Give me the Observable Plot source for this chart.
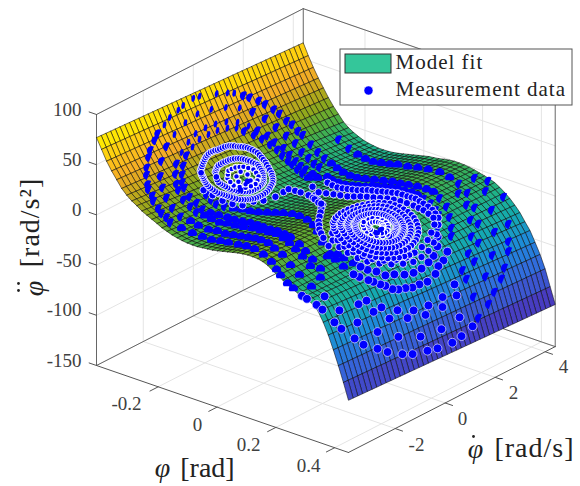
<!DOCTYPE html>
<html><head><meta charset="utf-8">
<script src="https://cdn.jsdelivr.net/npm/d3@7"></script>
<script src="https://cdn.jsdelivr.net/npm/@observablehq/plot@0.6"></script>
<style>html,body{margin:0;background:#fff}.wide text{letter-spacing:1px}</style></head><body><div id="c"></div>
<script>
const accelAtLowRate=[77,67,57,49,42,35,30,26,23,19.5,17,14.6,12.2,9.6,7.8,6,4.8,3.8,3.2,3,3,3.6,4.2,4.8,5.8,7,8.2,9.4,10.6,11.4,12,12,11.8,10.6,8.5,5,2,-1,-4,-6.6,-9,-11,-12,-15,-20,-29,-40,-53,-67,-82,-98];
const accelAtHighRate=[66,55,45,36,28,20,13,7,1,-3,-6,-8.4,-10.4,-11.6,-12.4,-13,-13,-12.8,-12.2,-11.2,-10,-8.8,-7.6,-6.4,-5.2,-4,-3.4,-2.6,-1.4,-.6,0,0,-.2,-.8,-1.8,-3,-4.2,-5.6,-7.4,-10.4,-14,-18,-23,-28.6,-36,-43,-53,-63.4,-76,-92,-108];
const phiRange=[-0.41,0.447], rateRange=[-3.87,4.4], accelRange=[-150,100];
const phiTicks=[-0.2,0,0.2,0.4], rateTicks=[-2,0,2,4], accelTicks=[-150,-100,-50,0,50,100];
const colorDomain=[-100,-72,-50,-30,-15,-3,7,18,30,42,55,66,77];
const colorRange=["#483bc0","#3468dc","#1f88dc","#14a8b4","#1ab294","#2cb168","#58ad38","#90a81c","#c8a81c","#f4ac26","#fdc21a","#ffdc08","#fff200"];
const nRate=44;
// measurement data: [phi, phi-dot] read along each visible trajectory
const bandA=[[-.397,.78],[-.392,1.16],[-.388,1.38],[-.379,1.68],[-.373,1.86],[-.363,2.11],[-.354,2.26],[-.341,2.45],[-.331,2.56],[-.315,2.66],[-.305,2.76],[-.289,2.8],[-.278,2.87],[-.25,2.86],[-.221,2.8],[-.194,2.75],[-.167,2.67],[-.139,2.58],[-.108,2.46],[-.075,2.35],[-.046,2.29],[-.02,2.3],[.009,2.32],[.038,2.34],[.067,2.36],[.097,2.33],[.118,2.4],[.142,2.48],[.165,2.57],[.183,2.64],[.211,2.59],[.244,2.48],[.272,2.27],[.298,2.04],[.315,1.84],[.338,1.37],[.349,1.08],[.354,.82],[.363,.6],[.368,.22],[.367,-.09],[.367,-.37],[.364,-.61],[.362,-.87],[.358,-1.06],[.349,-1.24],[.344,-1.38],[.334,-1.54],[.327,-1.66],[.311,-1.83],[.296,-1.89],[.265,-1.93],[.238,-1.93],[.218,-1.9]];
const bandB=[[-.404,-.07],[-.403,.17],[-.401,-.51],[-.398,-.74],[-.394,-1.13],[-.388,-1.41],[-.38,-1.73],[-.373,-1.93],[-.362,-2.24],[-.353,-2.41],[-.338,-2.66],[-.327,-2.8],[-.309,-2.97],[-.298,-3.07],[-.28,-3.12],[-.266,-3.24],[-.242,-3.33],[-.225,-3.4],[-.208,-3.4],[-.19,-3.46],[-.16,-3.41],[-.128,-3.35],[-.097,-3.31],[-.067,-3.3],[-.039,-3.27],[-.014,-3.25],[.025,-3.31],[.057,-3.36],[.093,-3.46],[.134,-3.59],[.169,-3.68],[.192,-3.75],[.211,-3.81],[.238,-3.85],[.258,-3.85],[.287,-3.85],[.304,-3.85],[.33,-3.77]];
const bandC=[[-.381,.38],[-.375,.89],[-.366,1.34],[-.351,1.73],[-.333,2.01],[-.312,2.2],[-.289,2.34],[-.267,2.44],[-.239,2.37],[-.215,2.36],[-.19,2.29],[-.171,2.28],[-.121,1.97],[-.095,1.86],[-.067,1.78],[-.037,1.7],[-.015,1.72],[.004,1.74],[.026,1.76],[.038,1.9],[.057,1.88],[.076,1.94],[.097,1.97],[.113,2.02],[.135,2.04],[.153,2.11],[.171,2.14],[.191,2.18],[.214,2.19],[.239,2.1],[.255,2.03],[.282,1.71],[.301,1.41],[.321,1.17],[.335,.85],[.342,.57],[.347,.23],[.348,-.1],[.345,-.43],[.337,-.74],[.332,-1.04],[.316,-1.21],[.302,-1.4],[.285,-1.48],[.269,-1.58],[.245,-1.69],[.227,-1.72]];
const bandD=[[-.383,-.15],[-.379,-.68],[-.37,-1.22],[-.357,-1.65],[-.338,-2.08],[-.314,-2.4],[-.289,-2.61],[-.261,-2.78],[-.228,-2.93],[-.195,-3],[-.17,-2.93],[-.145,-2.91],[-.115,-2.86],[-.094,-2.75],[-.065,-2.77],[-.04,-2.74],[-.015,-2.72],[.01,-2.73],[.035,-2.74],[.062,-2.82],[.095,-2.93],[.13,-3.1],[.163,-3.17],[.198,-3.26],[.232,-3.3],[.276,-3.34],[.319,-3.32]];
const bandE=[[-.355,.68],[-.347,1.03],[-.334,1.32],[-.32,1.55],[-.304,1.76],[-.286,1.83],[-.267,1.97],[-.245,1.95],[-.221,1.91],[-.201,1.87],[-.183,1.86],[-.158,1.81],[-.135,1.74],[-.359,.29],[-.36,-.1],[-.358,-.52],[-.35,-.9],[-.339,-1.3],[-.324,-1.64],[-.306,-1.89],[-.284,-2.11],[-.268,-2.22],[-.239,-2.36],[-.212,-2.4],[-.189,-2.43],[-.169,-2.38],[-.149,-2.34],[-.124,-2.31],[-.106,-2.2],[-.083,-2.16],[-.059,-2.12],[-.031,-2.09],[0,-2.13],[.033,-2.2],[.065,-2.26],[.104,-2.44],[.136,-2.57],[.165,-2.67],[.191,-2.7],[.224,-2.77],[.264,-2.84]];
const bandF=[[-.348,.24],[-.345,.6],[-.339,.9],[-.328,1.12],[-.315,1.37],[-.302,1.54],[-.285,1.66],[-.269,1.75],[-.25,1.73],[-.23,1.73],[-.215,1.72],[-.194,1.67],[-.174,1.64],[-.15,1.55],[-.348,-.12],[-.347,-.49],[-.34,-.85],[-.33,-1.17],[-.315,-1.47],[-.299,-1.7],[-.282,-1.9],[-.268,-1.98],[-.24,-2.11],[-.215,-2.12],[-.19,-2.18],[-.17,-2.13],[-.152,-2.02],[-.13,-1.92],[-.11,-1.88],[-.088,-1.82],[-.064,-1.78],[-.035,-1.84],[-.01,-1.9],[.022,-1.99],[.05,-2.04],[.086,-2.18],[.113,-2.26],[.155,-2.4],[.181,-2.46],[.21,-2.52],[.242,-2.58]];
const bandG=[[-.227,-1.58],[-.207,-1.62],[-.189,-1.63],[-.171,-1.52],[-.153,-1.41],[-.135,-1.26],[-.116,-1.17],[-.096,-1.08],[-.077,-.95],[-.057,-.86],[-.037,-.78],[-.009,-.75],[.022,-.83],[.065,-1.02],[.106,-1.26],[.14,-1.5],[.18,-1.77],[.22,-2.04]];
const startsTop=[[-.234,3.78],[-.194,3.72],[-.16,3.64],[-.128,3.57],[-.097,3.52],[-.07,3.53],[-.04,3.51],[-.017,3.56],[.022,3.5],[.051,3.56],[.088,3.54],[.124,3.58],[.161,3.54],[.195,3.54]];
const edgeRing1=[[.394,-3],[.404,-2.76],[.414,-2.32],[.421,-2],[.429,-1.5],[.433,-1.14],[.436,-.58],[.438,-.2],[.439,.38],[.437,.77],[.433,1.26],[.429,1.58],[.421,2.08],[.413,2.41],[.403,2.81],[.393,3.05],[.376,3.41],[.364,3.55],[.338,3.85],[.285,4.28],[.23,4.3]];
const edgeRing2=[[.367,-3.49],[.378,-3.34],[.379,-2.71],[.398,-2.13],[.412,-1.46],[.421,-.68],[.423,.13],[.42,.89],[.408,1.63],[.393,2.29],[.372,2.81],[.341,3.26],[.3,3.62],[.253,3.93],[.201,4.1]];
const edgeRing3=[[.344,-3.7],[.355,-3.15],[.375,-2.02],[.39,-1.56],[.398,-.93],[.403,-.27],[.403,.41],[.398,1.03],[.386,1.61],[.37,2.12],[.347,2.55],[.315,2.92],[.278,3.2],[.235,3.42]];
const edgeRing4=[[.358,-2.42],[.358,-2.1],[.374,-1.69],[.385,-1.18],[.393,-.63],[.395,-.06],[.393,.53],[.385,1.1],[.374,1.59],[.356,2.04],[.332,2.44],[.3,2.78],[.263,3.06],[.224,3.19]];
const bandH=[[-.096,1.68],[-.071,1.58],[-.046,1.49],[-.028,1.48],[-.011,1.48],[.006,1.48],[.023,1.48],[.035,1.54],[.047,1.6],[.063,1.6],[.08,1.61],[.093,1.65],[.107,1.69],[.118,1.75],[.13,1.82],[.144,1.85],[.158,1.89],[.168,1.94],[.177,1.99],[.19,2],[.202,2.01],[.217,2.02],[.232,2.02],[.245,1.98],[.259,1.94],[.275,1.75],[.295,1.45],[.31,1.15],[.322,.8],[.328,.45],[.33,.1],[.325,-.25],[.315,-.6],[.3,-.9],[.28,-1.15],[.26,-1.3],[.235,-1.4],[.21,-1.45],[.185,-1.42]];
const bandI=[[-.108,1.22],[-.059,.76],[-.067,.98],[-.042,.99],[-.018,1],[.006,.99],[.031,.98],[.048,1.04],[.065,1.1],[.083,1.15],[.102,1.19],[.117,1.28],[.133,1.38],[.148,1.46],[.163,1.55],[.178,1.63],[.194,1.71],[.208,1.75],[.221,1.79],[.237,1.8],[.253,1.81],[.27,1.65],[.285,1.35],[.298,1.05],[.308,.7],[.313,.35],[.315,0],[.31,-.35],[.298,-.7],[.28,-.95],[.262,-1.12],[.24,-1.24],[.215,-1.3],[.19,-1.28],[.165,-1.2]];
const saddle=[[-.02,.42],[.013,.2],[.03,-.05],[.052,-.34],[.075,-.65],[.098,-.96],[.116,-1.15],[.134,-1.35],[.15,-1.47],[.167,-1.58],[.194,-1.69],[-.245,-1.53],[-.221,-1.45],[-.194,-1.37],[-.171,-1.24],[-.153,-1.05],[-.15,-.65],[-.138,-.39],[-.133,.03],[-.138,.41],[-.141,.65],[-.123,.7],[-.106,.72],[-.075,.67],[-.05,.55],[-.038,.48],[-.01,.3],[.004,.25]];
const leftSpiral1=[[-.292,-1.1],[-.296,-1.03],[-.3,-.95],[-.304,-.87],[-.308,-.79],[-.311,-.71],[-.314,-.63],[-.316,-.55],[-.318,-.47],[-.319,-.38],[-.319,-.29],[-.319,-.2],[-.318,-.11],[-.318,-.02],[-.318,.08],[-.318,.18],[-.317,.28],[-.316,.36],[-.314,.43],[-.312,.5],[-.309,.58],[-.307,.65],[-.305,.72],[-.302,.79],[-.299,.86],[-.295,.91],[-.291,.96],[-.286,1.01],[-.281,1.05],[-.275,1.06],[-.268,1.06],[-.261,1.05],[-.253,1.04],[-.245,1],[-.236,.96],[-.227,.91],[-.217,.86],[-.209,.79],[-.201,.72],[-.194,.64],[-.187,.55],[-.181,.44],[-.176,.33],[-.171,.22],[-.166,.1],[-.163,-.01],[-.161,-.12],[-.16,-.23],[-.159,-.34],[-.159,-.43],[-.16,-.52],[-.162,-.6],[-.164,-.68],[-.167,-.74],[-.17,-.8],[-.174,-.86],[-.178,-.92],[-.184,-.96],[-.19,-1],[-.196,-1.04],[-.202,-1.08],[-.207,-1.12],[-.212,-1.16],[-.217,-1.2],[-.222,-1.24],[-.229,-1.25],[-.236,-1.26],[-.243,-1.27],[-.25,-1.27],[-.257,-1.26],[-.263,-1.24],[-.269,-1.22],[-.274,-1.19],[-.279,-1.17],[-.284,-1.15],[-.288,-1.12]];
const leftSpiral2=[[-.277,-.68],[-.28,-.62],[-.283,-.55],[-.286,-.49],[-.288,-.42],[-.289,-.33],[-.29,-.23],[-.29,-.14],[-.29,-.04],[-.29,.05],[-.289,.14],[-.288,.22],[-.286,.31],[-.284,.38],[-.281,.45],[-.278,.51],[-.274,.57],[-.27,.62],[-.265,.67],[-.26,.71],[-.255,.75],[-.249,.73],[-.242,.7],[-.235,.67],[-.228,.63],[-.221,.57],[-.214,.5],[-.208,.43],[-.202,.36],[-.198,.28],[-.195,.2],[-.193,.12],[-.191,.04],[-.19,-.07],[-.189,-.18],[-.189,-.28],[-.19,-.38],[-.193,-.45],[-.196,-.52],[-.2,-.58],[-.204,-.65],[-.209,-.69],[-.214,-.73],[-.219,-.77],[-.225,-.8],[-.231,-.82],[-.238,-.84],[-.244,-.86],[-.25,-.87],[-.258,-.83],[-.265,-.78]];
const leftSpiral3=[[-.251,-.5],[-.26,-.38],[-.268,-.26],[-.269,-.12],[-.269,.03],[-.266,.16],[-.263,.28],[-.256,.39],[-.247,.49],[-.235,.46],[-.222,.4],[-.212,.24],[-.204,.07],[-.203,-.13],[-.205,-.32],[-.214,-.45],[-.225,-.56],[-.238,-.54]];
const leftCore=[[-.246,-.2],[-.254,.06],[-.24,.17],[-.22,.06],[-.215,-.2],[-.23,-.31]];
const rightSpiral1=[[.313,.15],[.311,-.03],[.308,-.21],[.303,-.37],[.297,-.53],[.288,-.67],[.279,-.81],[.269,-.92],[.258,-1.02],[.245,-1.08],[.231,-1.14],[.218,-1.16],[.204,-1.18],[.19,-1.15],[.177,-1.12],[.165,-1.06],[.152,-.99],[.142,-.88],[.131,-.77],[.124,-.64],[.116,-.5],[.111,-.34],[.106,-.18],[.105,-.02],[.104,.15],[.106,.32],[.108,.48],[.113,.63],[.119,.78],[.126,.91],[.134,1.03],[.144,1.13],[.155,1.23],[.167,1.28],[.179,1.33],[.191,1.35],[.204,1.37],[.217,1.35],[.229,1.32],[.241,1.26],[.252,1.19],[.262,1.1],[.271,1],[.278,.87],[.285,.74],[.289,.6],[.293,.46],[.295,.31],[.296,.15],[.294,0],[.292,-.15],[.287,-.29],[.282,-.42],[.275,-.54],[.268,-.66],[.259,-.75],[.249,-.83],[.238,-.88],[.227,-.93],[.216,-.95],[.204,-.96],[.193,-.94],[.182,-.91],[.171,-.86],[.16,-.8],[.151,-.71],[.143,-.62],[.137,-.5],[.131,-.39],[.127,-.26],[.123,-.13],[.122,.01],[.121,.15],[.122,.29],[.124,.42],[.128,.55],[.133,.67],[.139,.78],[.146,.88],[.154,.96],[.163,1.04],[.173,1.09],[.183,1.13],[.193,1.14],[.204,1.15],[.214,1.13],[.224,1.11],[.233,1.06],[.243,1.01],[.251,.93],[.259,.84],[.265,.74],[.27,.63],[.274,.52],[.277,.4],[.278,.28],[.279,.15]];
const rightSpiral2=[[.278,.02],[.276,-.1],[.272,-.21],[.267,-.32],[.262,-.42],[.256,-.51],[.248,-.58],[.24,-.64],[.231,-.68],[.222,-.72],[.213,-.74],[.204,-.75],[.195,-.73],[.186,-.71],[.178,-.66],[.169,-.61],[.162,-.54],[.155,-.47],[.15,-.38],[.145,-.28],[.142,-.18],[.139,-.07],[.138,.04],[.138,.15],[.139,.26],[.141,.37],[.144,.47],[.148,.56],[.153,.65],[.158,.73],[.165,.79],[.172,.85],[.18,.89],[.188,.92],[.196,.93],[.204,.94],[.212,.92],[.22,.9],[.228,.86],[.235,.82],[.241,.76],[.247,.69],[.251,.61],[.255,.53],[.258,.44],[.261,.34],[.262,.25],[.262,.15],[.261,.06],[.259,-.04],[.256,-.13],[.253,-.21],[.249,-.28],[.244,-.35],[.238,-.41],[.232,-.46],[.225,-.49],[.218,-.52],[.211,-.53],[.204,-.53],[.197,-.52],[.19,-.5],[.184,-.47],[.178,-.43],[.173,-.37],[.167,-.31],[.164,-.24],[.16,-.17],[.158,-.1],[.156,-.02],[.155,.07],[.155,.15],[.156,.23],[.157,.31],[.16,.38],[.163,.45],[.167,.52],[.171,.58],[.176,.62],[.18,.66],[.186,.69],[.192,.71],[.198,.72],[.204,.72],[.21,.71],[.215,.69],[.221,.66],[.226,.63],[.23,.59],[.234,.54],[.237,.48],[.24,.42],[.242,.36],[.244,.29],[.245,.22],[.245,.15]];
const rightCore=[[.238,.15],[.236,-.02],[.228,-.16],[.216,-.24],[.204,-.27],[.192,-.24],[.182,-.17],[.175,-.06],[.174,.15],[.176,.28],[.184,.39],[.194,.46],[.204,.48],[.214,.44],[.222,.37],[.228,.26],[.23,.15],[.228,.04],[.222,-.05],[.213,-.1],[.204,-.12],[.196,-.09],[.19,-.04],[.186,.05],[.186,.15],[.188,.24],[.193,.3],[.199,.33],[.204,.33],[.21,.3],[.214,.24],[.216,.19]];
const restPoints=[[-.221,-.05],[-.204,-.53],[.217,.12],[.22,-.08]];

const view={ox:96,oy:365,phiX:294,phiY:101.5,rateX:25,rateY:-12.8,zY:-1.004};
const px=(p,r)=>view.ox+(p-phiRange[0])*view.phiX+(r-rateRange[0])*view.rateX;
const py=(p,r,z)=>view.oy+(p-phiRange[0])*view.phiY+(r-rateRange[0])*view.rateY+(z-accelRange[0])*view.zY;
const nPhi=accelAtLowRate.length-1;
const phiAt=i=>phiRange[0]+i*(phiRange[1]-phiRange[0])/nPhi;
const rateAt=j=>rateRange[0]+j*(rateRange[1]-rateRange[0])/nRate;
const surf=(i,j)=>accelAtLowRate[i]+(accelAtHighRate[i]-accelAtLowRate[i])*j/nRate;
const quads=[];
for(let i=0;i<nPhi;i++)for(let j=nRate-1;j>=0;j--){
  const c=(surf(i,j)+surf(i+1,j)+surf(i,j+1)+surf(i+1,j+1))/4,id=i*100+j;
  for(const [a,b] of [[i,j],[i+1,j],[i+1,j+1],[i,j+1],[i,j]])
    quads.push({id,c,x:px(phiAt(a),rateAt(b)),y:py(phiAt(a),rateAt(b),surf(a,b))});
}
const onSurface=([p,r])=>{
  const f=(p-phiRange[0])/(phiRange[1]-phiRange[0])*nPhi,i=Math.max(0,Math.min(nPhi-1,Math.floor(f))),t=f-i;
  const w=(r-rateRange[0])/(rateRange[1]-rateRange[0]);
  const zl=accelAtLowRate[i]*(1-t)+accelAtLowRate[i+1]*t, zh=accelAtHighRate[i]*(1-t)+accelAtHighRate[i+1]*t;
  return {phi:p,rate:r,x:px(p,r),y:py(p,r,zl+(zh-zl)*w)};
};
const [p0,p1]=phiRange,[r0,r1]=rateRange,[z0,z1]=accelRange;
const P=(p,r,z)=>({x:px(p,r),y:py(p,r,z)});
const seg=(a,b)=>[a,b];
const grid=[];
for(const p of phiTicks){grid.push(seg(P(p,r0,z0),P(p,r1,z0)),seg(P(p,r1,z0),P(p,r1,z1)));}
for(const r of rateTicks){grid.push(seg(P(p0,r,z0),P(p1,r,z0)),seg(P(p0,r,z0),P(p0,r,z1)));}
for(const z of accelTicks){grid.push(seg(P(p0,r0,z),P(p0,r1,z)),seg(P(p0,r1,z),P(p1,r1,z)));}
const box=[seg(P(p0,r0,z0),P(p0,r0,z1)),seg(P(p0,r0,z1),P(p0,r1,z1)),seg(P(p0,r1,z1),P(p1,r1,z1)),seg(P(p1,r1,z0),P(p1,r1,z1)),seg(P(p0,r1,z0),P(p0,r1,z1)),seg(P(p0,r0,z0),P(p0,r1,z0)),seg(P(p0,r1,z0),P(p1,r1,z0))];
const front=[seg(P(p0,r0,z0),P(p1,r0,z0)),seg(P(p1,r0,z0),P(p1,r1,z0))];
for(const p of phiTicks)front.push(seg(P(p,r0,z0),P(p,r0-0.33,z0)));
for(const r of rateTicks)front.push(seg(P(p1,r,z0),P(p1+0.025,r,z0)));
for(const z of accelTicks)front.push(seg(P(p0,r0,z),P(p0-0.025,r0,z)));
const flat=a=>a.flatMap((s,k)=>s.map(q=>({...q,k})));
const ink="#404040", serif="'Liberation Serif',serif", blue="#0000ff";
const lab=(t,x,y,o={})=>Plot.text([t],{x:()=>x,y:()=>y,text:d=>d,fontFamily:serif,fontSize:19,fill:ink,...o});
// dots hidden part-way by the surface
const domed=(a,b)=>({draw(c,size){const R=Math.sqrt(size/Math.PI);c.moveTo(R*Math.cos(a),R*Math.sin(a));c.arc(0,0,R,a,b);c.closePath();}});
const halfDisc=domed(1.75,5.3), cutDisc=domed(Math.PI-.55,2*Math.PI+.55);
const sliver={draw(c,size){const R=Math.sqrt(size/Math.PI);for(let k=0;k<14;k++){const a=k/14*2*Math.PI,x=.42*R*Math.cos(a),y=.85*R*Math.sin(a),ca=.9,sa=.2;k?c.lineTo(x*ca-y*sa,x*sa+y*ca):c.moveTo(x*ca-y*sa,x*sa+y*ca);}c.closePath();}};
const outerBands=[bandB,bandA,bandC,bandD,bandE,bandF,bandG,startsTop,edgeRing1,edgeRing2,edgeRing3,edgeRing4].flat().map(onSurface);
const isSliver=d=>d.phi<-.33&&d.rate>-1.6&&d.rate<1.5;
const isHalf=d=>!isSliver(d)&&(d.phi<-.17||(d.phi>.19&&d.rate>1.5));
const isCut=d=>!isSliver(d)&&!isHalf(d)&&d.phi<.28;
const dots=(list,o)=>Plot.dot(list,{x:"x",y:"y",fill:blue,...o});
const chart=Plot.plot({width:580,height:486,margin:0,
  x:{domain:[0,580],range:[0,580],axis:null},y:{domain:[0,486],range:[0,486],axis:null},
  color:{type:"linear",domain:colorDomain,range:colorRange,clamp:true},
  marks:[
    Plot.line(flat(grid),{x:"x",y:"y",z:"k",stroke:"#e4e4e4",strokeWidth:1}),
    Plot.line(flat(box),{x:"x",y:"y",z:"k",stroke:"#666",strokeWidth:1}),
    Plot.line(flat(front),{x:"x",y:"y",z:"k",stroke:"#555",strokeWidth:1}),
    Plot.line(quads,{x:"x",y:"y",z:"id",fill:"c",stroke:"#0a0a0a",strokeWidth:0.55}),
    dots(outerBands.filter(isSliver),{r:4.6,symbol:sliver}),
    dots(outerBands.filter(isHalf),{r:4.6,symbol:halfDisc}),
    dots(outerBands.filter(isCut),{r:4.5,symbol:cutDisc}),
    dots(outerBands.filter(d=>!isSliver(d)&&!isHalf(d)&&!isCut(d)),{r:4.4,stroke:"#e8e8ff",strokeWidth:.7}),
    dots([...bandH,...bandI,...saddle].map(onSurface),{r:3.7,stroke:"#fff",strokeWidth:.8}),
    dots([...leftSpiral1,...leftSpiral2,...rightSpiral1,...rightSpiral2].map(onSurface),{r:3.4,stroke:"#fff",strokeWidth:.9}),
    dots([...leftSpiral3,...rightCore,...leftCore].map(onSurface),{r:2.8,stroke:"#fff",strokeWidth:1.1}),
    dots(restPoints.map(onSurface),{r:2.8}),
    Plot.rect([0],{x1:()=>340,x2:()=>572,y1:()=>49,y2:()=>105,fill:"#fff",stroke:"#555"}),
    Plot.rect([0],{x1:()=>345,x2:()=>391,y1:()=>54,y2:()=>73,fill:"#34c69a",stroke:"#333"}),
    Plot.dot([0],{x:()=>368,y:()=>90,r:4.5,fill:blue,stroke:"#fff",strokeWidth:.5}),
    lab("Model fit",395,62,{textAnchor:"start",fontSize:21,fill:"#222",className:"wide"}),
    lab("Measurement data",395,89,{textAnchor:"start",fontSize:21,fill:"#222",className:"wide"}),
    ...accelTicks.map((z,k)=>lab(String(z),81,[360,309,260,209,159,109][k],{textAnchor:"end"})),
    ...phiTicks.map((v,k)=>lab(String(v),[126,197,248,308][k],[403,424,444,465][k])),
    ...rateTicks.map((v,k)=>lab(String(v),[416,462,513,563][k],[444,418,392,366][k])),
    lab("φ",162,468,{fontSize:28,fill:"#222",fontStyle:"italic"}),
    lab("[rad]",207,468,{fontSize:28,fill:"#222"}),
    lab("φ",475,449,{fontSize:28,fill:"#222",fontStyle:"italic"}),
    lab("[rad/s]",534,448,{fontSize:28,fill:"#222",className:"wide"}),
    lab("φ",34,288,{fontSize:28,fill:"#222",fontStyle:"italic",rotate:-90}),
    lab("[rad/s²]",30,222,{fontSize:28,fill:"#222",rotate:-90,className:"wide"}),
    Plot.dot([[473,436],[18,283],[18,290]],{x:d=>d[0],y:d=>d[1],r:1.4,fill:"#222"})
  ]});
document.getElementById("c").append(chart);
</script></body></html>
